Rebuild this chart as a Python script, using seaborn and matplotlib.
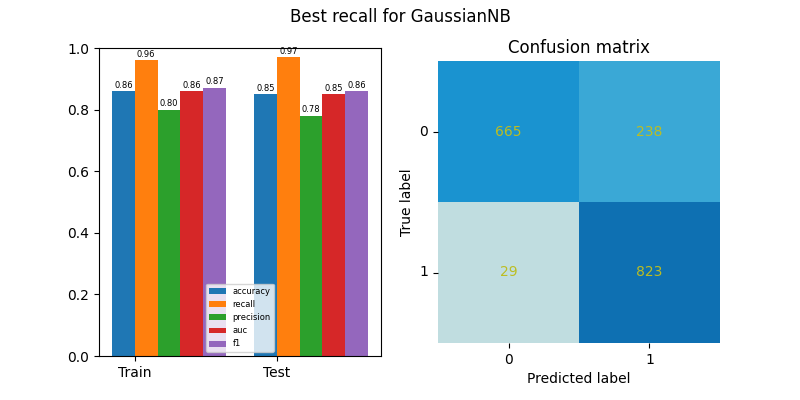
import numpy as np
import matplotlib
matplotlib.use("Agg")
import matplotlib.pyplot as plt
import seaborn as sns
from matplotlib.colors import LinearSegmentedColormap

metrics = ["accuracy", "recall", "precision", "auc", "f1"]
groups = ["Train", "Test"]
train_vals = [0.86, 0.96, 0.80, 0.86, 0.87]
test_vals = [0.85, 0.97, 0.78, 0.85, 0.86]
cm_vals = [[665, 238], [29, 823]]
cm_labels = ["0", "1"]

colors = ["#1f77b4", "#ff7f0e", "#2ca02c", "#d62728", "#9467bd"]
fig, (ax1, ax2) = plt.subplots(1, 2, figsize=(8, 4), dpi=100)
fig.suptitle("Best recall for GaussianNB")
x = np.arange(len(groups))
w = 0.16
for i, m in enumerate(metrics):
    vals = [train_vals[i], test_vals[i]]
    bars = ax1.bar(x + i * w, vals, w, align="edge", color=colors[i], label=m)
    for b, v in zip(bars, vals):
        ax1.text(b.get_x() + w / 2, v + 0.005, f"{v:.2f}", ha="center", va="bottom", fontsize=6)
ax1.set_xticks(x + w)
ax1.set_xticklabels(groups)
ax1.set_ylim(0, 1)
ax1.legend(loc="lower center", bbox_to_anchor=(0.5, 0.0), fontsize=6)

cmap = LinearSegmentedColormap.from_list(
    "cm", [(0, "#c0dde0"), (0.263, "#3aa8d6"), (0.81, "#1a93d0"), (1, "#0e70b2")])
sns.heatmap(np.array(cm_vals), ax=ax2, cmap=cmap, annot=True, fmt="d", cbar=False,
            square=True, annot_kws={"color": "#bcbd22", "fontsize": 10},
            xticklabels=cm_labels, yticklabels=cm_labels)
ax2.set_yticklabels(cm_labels, rotation=0)
ax2.set_title("Confusion matrix")
ax2.set_xlabel("Predicted label")
ax2.set_ylabel("True label")
ax1.set_position([0.124, 0.11, 0.352, 0.77])
ax2.set_position([0.5475, 0.1425, 0.3525, 0.705])
fig.savefig("out.png")
